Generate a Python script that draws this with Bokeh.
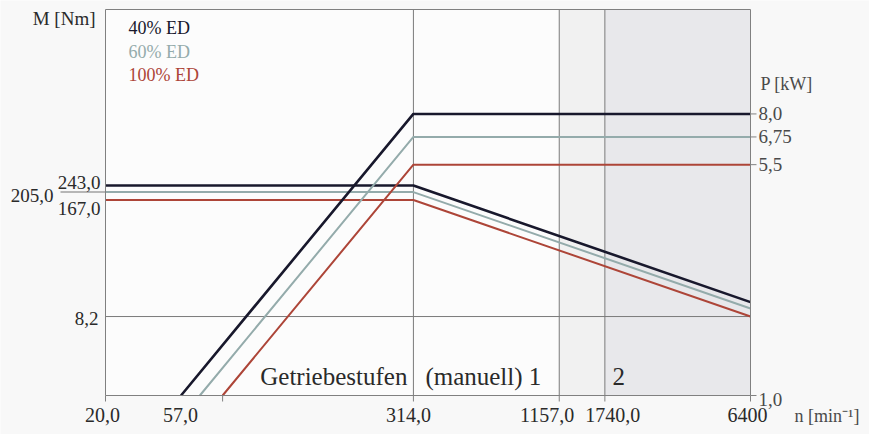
import math
from bokeh.plotting import figure
from bokeh.models import Range1d, LogScale, Label
from bokeh.embed import file_html
from bokeh.resources import INLINE

# ---- data ----
X_TICKS = [20.0, 57.0, 314.0, 1157.0, 1740.0, 6400.0]
X_TICK_LABELS = ["20,0", "57,0", "314,0", "1157,0", "1740,0", "6400"]
M_TICKS = [8.2]
M_TICK_LABELS = ["8,2"]
M_RATED = [243.0, 205.0, 167.0]
M_RATED_LABELS = ["243,0", "205,0", "167,0"]
P_TICKS = [1.0, 5.5, 6.75, 8.0]
P_TICK_LABELS = ["1,0", "5,5", "6,75", "8,0"]
GRID_N = [314.0, 1157.0, 1740.0]

SERIES = ["40% ED", "60% ED", "100% ED"]
N_TORQUE = [20.0, 314.0, 6400.0]
M_40 = [243.0, 243.0, 11.9]
M_60 = [205.0, 205.0, 10.1]
M_100 = [167.0, 167.0, 8.2]
N_P_40 = [39.3, 314.0, 6400.0]
P_40 = [1.0, 8.0, 8.0]
N_P_60 = [46.5, 314.0, 6400.0]
P_60 = [1.0, 6.75, 6.75]
N_P_100 = [57.0, 314.0, 6400.0]
P_100 = [1.0, 5.5, 5.5]

# axis limits of the diagram box
N_MIN, N_MAX = 20.0, 6400.0
M_MIN, M_MAX = 1.063, 23100.0
P_MIN, P_MAX = 1.0, 17.3

# ---- styling / layout ----
COLORS = ["#18182c", "#94abab", "#ad4538"]
WIDTHS = [2.6, 2.0, 2.0]
FONT = "Liberation Serif"
TXT = "#2a2a2a"
TXT2 = "#4a4a4a"
FRAME = "#808080"
W, H = 869, 434
BOX_L, BOX_R, BOX_T, BOX_B = 105, 750, 9, 395   # pixel box of the diagram
TICK = 6

# log-scale extents so that the diagram box sits where the reference draws it
def ext(lo, hi, p_lo, p_hi, total):
    dec = math.log10(hi / lo) / (p_hi - p_lo)
    return lo / 10 ** (dec * p_lo), hi * 10 ** (dec * (total - p_hi)), dec

xr0, xr1, DX = ext(N_MIN, N_MAX, BOX_L, BOX_R, W)
yr0, yr1, DM = ext(M_MIN, M_MAX, H - BOX_B, H - BOX_T, H)
pr0, pr1, DP = ext(P_MIN, P_MAX, H - BOX_B, H - BOX_T, H)

p = figure(width=W, height=H, output_backend="svg", toolbar_location=None,
           x_axis_type="log", y_axis_type="log",
           x_range=Range1d(xr0, xr1), y_range=Range1d(yr0, yr1),
           min_border=0)
p.extra_y_ranges = {"p": Range1d(pr0, pr1)}
p.extra_y_scales = {"p": LogScale()}
p.xaxis.visible = False
p.yaxis.visible = False
p.grid.visible = False
p.outline_line_color = None
p.background_fill_color = "#f8f8f8"
p.border_fill_color = "#f8f8f8"

# diagram box and gear-range shading
p.quad(left=[N_MIN], right=[N_MAX], bottom=[M_MIN], top=[M_MAX], fill_color="#fcfcfc", line_color=None)
p.quad(left=[GRID_N[1]], right=[GRID_N[2]], bottom=[M_MIN], top=[M_MAX], fill_color="#f1f1f1", line_color=None)
p.quad(left=[GRID_N[2]], right=[N_MAX], bottom=[M_MIN], top=[M_MAX], fill_color="#e8e8eb", line_color=None)

# bottom ticks and vertical grid lines
y_tick = M_MIN / 10 ** (TICK * DM)
p.segment(x0=X_TICKS, x1=X_TICKS, y0=[M_MIN] * len(X_TICKS), y1=[y_tick] * len(X_TICKS),
          line_color=FRAME, line_width=1)
p.segment(x0=GRID_N, x1=GRID_N, y0=[M_MIN] * len(GRID_N), y1=[M_MAX] * len(GRID_N),
          line_color="#7a7a7a", line_width=1)
# horizontal grid line at 8.2 Nm
p.segment(x0=[N_MIN] * len(M_TICKS), x1=[N_MAX] * len(M_TICKS), y0=M_TICKS, y1=M_TICKS,
          line_color="#7a7a7a", line_width=1)
# right ticks (power)
x_tick = N_MAX * 10 ** (TICK * DX)
p.segment(x0=[N_MAX] * len(P_TICKS), x1=[x_tick] * len(P_TICKS), y0=P_TICKS, y1=P_TICKS,
          line_color=FRAME, line_width=1, y_range_name="p")
# continuation of the 205 Nm line into the label (fraction stroke)
p.segment(x0=[N_MIN / 10 ** (45 * DX)], x1=[N_MIN], y0=[M_RATED[1]], y1=[M_RATED[1]],
          line_color="#a0a0a0", line_width=1.5)

# torque curves
for m, c, w in zip([M_40, M_60, M_100], COLORS, WIDTHS):
    p.line(N_TORQUE, m, line_color=c, line_width=w)
# power curves
for n, pw, c, w in zip([N_P_40, N_P_60, N_P_100], [P_40, P_60, P_100], COLORS, WIDTHS):
    p.line(n, pw, line_color=c, line_width=w, y_range_name="p")

# box outline
p.quad(left=[N_MIN], right=[N_MAX], bottom=[M_MIN], top=[M_MAX], fill_color=None, line_color=FRAME, line_width=1)

def lab(**kw):
    base = dict(text_font=FONT, text_color=TXT, text_font_size="19px", text_baseline="middle")
    base.update(kw)
    p.add_layout(Label(**base))

# x tick labels (shifted as drawn in the reference)
X_LABEL_SHIFT = [-3, -42, -5, -12, 8, -3]
for t, l, dx in zip(X_TICKS, X_TICK_LABELS, X_LABEL_SHIFT):
    lab(x=t, y=M_MIN, text=l, x_offset=dx, y_offset=-19, text_align="center", text_font_size="20px")
# left tick label
for t, l in zip(M_TICKS, M_TICK_LABELS):
    lab(x=N_MIN, y=t, text=l, x_offset=-7, y_offset=-2, text_align="right")
# rated torque labels
lab(x=N_MIN, y=M_RATED[0], text=M_RATED_LABELS[0], x_offset=-5, y_offset=3.5, text_align="right")
lab(x=N_MIN, y=M_RATED[1], text=M_RATED_LABELS[1], x_offset=-52, y_offset=-3.5, text_align="right")
lab(x=N_MIN, y=M_RATED[2], text=M_RATED_LABELS[2], x_offset=-5, y_offset=-8, text_align="right")
# right tick labels
for t, l in zip(P_TICKS, P_TICK_LABELS):
    lab(x=N_MAX, y=t, y_range_name="p", text=l, x_offset=8, y_offset=(-4 if t == P_MIN else 0),
        text_align="left", text_color=TXT2)

# axis titles
lab(x=N_MIN, y=M_MAX, text="M [Nm]", x_offset=-10, y_offset=-9, text_align="right")
lab(x=N_MAX, y=10.0, y_range_name="p", text="P [kW]", x_offset=10, text_align="left",
    text_font_size="18px", text_color=TXT2)
lab(x=N_MAX, y=M_MIN, text="n [min\u207b\u00b9]", x_offset=44, y_offset=-20, text_align="left",
    text_font_size="18px", text_color=TXT2)

# legend texts
for i, (s, c) in enumerate(zip(SERIES, COLORS)):
    lab(x=N_MIN, y=M_MAX, text=s, x_offset=23, y_offset=-18.5 - 23.5 * i,
        text_align="left", text_font_size="18px", text_color=c)

# gear stage texts
lab(x=GRID_N[0], y=M_MIN, text="Getriebestufen", x_offset=-6, y_offset=19,
    text_align="right", text_baseline="alphabetic", text_font_size="25px")
lab(x=GRID_N[0], y=M_MIN, text="(manuell) 1", x_offset=12, y_offset=19,
    text_align="left", text_baseline="alphabetic", text_font_size="25px")
lab(x=GRID_N[2], y=M_MIN, text="2", x_offset=14, y_offset=19,
    text_align="center", text_baseline="alphabetic", text_font_size="25px")

open("out.html", "w").write(file_html(p, INLINE))
